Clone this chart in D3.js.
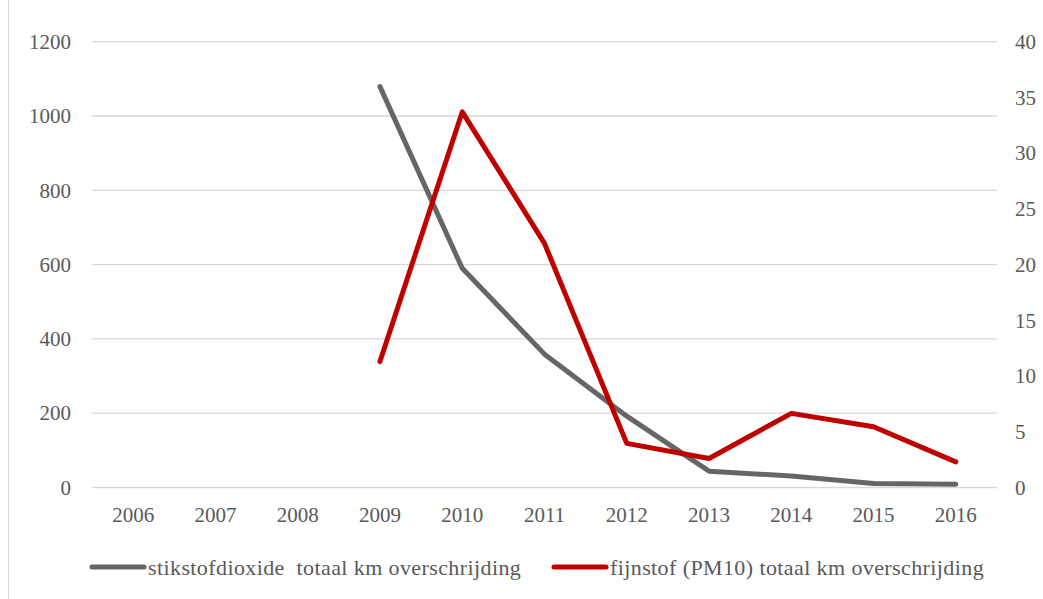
<!DOCTYPE html>
<html><head><meta charset="utf-8">
<script src="https://cdn.jsdelivr.net/npm/d3@7"></script>
<style>body{margin:0;background:#fff}svg{display:block}</style>
</head><body>
<script>
const years = ["2006","2007","2008","2009","2010","2011","2012","2013","2014","2015","2016"];
const no2Values = [null,null,null,1079,590,359,192,44,31,11,9];
const pm10Values = [null,null,null,11.3,33.7,21.9,3.96,2.6,6.65,5.45,2.3];
const leftTicks = [0,200,400,600,800,1000,1200];
const rightTicks = [0,5,10,15,20,25,30,35,40];
const seriesNames = ["stikstofdioxide\u00a0\u00a0totaal km overschrijding","fijnstof (PM10) totaal km overschrijding"];
const seriesColors = ["#666666","#C00000"];

const FONT="Liberation Serif";
const TXT="#595959";
const fs=21;
const W=1043,H=599;
const svg=d3.select("body").append("svg").attr("width",W).attr("height",H);
svg.append("line").attr("x1",8.5).attr("x2",8.5).attr("y1",0).attr("y2",H).attr("stroke","#D9D9D9").attr("stroke-width",1);

const x=d3.scaleBand().domain(years).range([92,997]);
const yL=d3.scaleLinear().domain([0,1200]).range([487.5,41.7]);
const yR=d3.scaleLinear().domain([0,40]).range([487.5,41.7]);

svg.append("g").selectAll("line").data(leftTicks).join("line")
 .attr("x1",92).attr("x2",997).attr("y1",d=>yL(d)).attr("y2",d=>yL(d))
 .attr("stroke","#D9D9D9").attr("stroke-width",1.3);

function styleAxis(g){
  g.select(".domain").remove();
  g.attr("font-family",FONT).attr("font-size",fs);
  g.selectAll("text").attr("font-size",fs).attr("fill",TXT).style("font-family",FONT);
}
const gL=svg.append("g").attr("transform","translate(71,0)")
  .call(d3.axisLeft(yL).tickValues(leftTicks).tickSize(0).tickPadding(0).tickFormat(d3.format("d")));
styleAxis(gL);
const gR=svg.append("g").attr("transform","translate(1015,0)")
  .call(d3.axisRight(yR).tickValues(rightTicks).tickSize(0).tickPadding(0));
styleAxis(gR);
const gB=svg.append("g").attr("transform","translate(0,507)")
  .call(d3.axisBottom(x).tickSize(0).tickPadding(0));
styleAxis(gB);

const cx=d=>x(d)+x.bandwidth()/2;
const data1=years.map((y,i)=>({y,v:no2Values[i]}));
const data2=years.map((y,i)=>({y,v:pm10Values[i]}));
const l1=d3.line().defined(d=>d.v!=null).x(d=>cx(d.y)).y(d=>yL(d.v));
const l2=d3.line().defined(d=>d.v!=null).x(d=>cx(d.y)).y(d=>yR(d.v));
svg.append("path").datum(data1).attr("d",l1).attr("fill","none").attr("stroke",seriesColors[0]).attr("stroke-width",5).attr("stroke-linecap","round").attr("stroke-linejoin","round");
svg.append("path").datum(data2).attr("d",l2).attr("fill","none").attr("stroke",seriesColors[1]).attr("stroke-width",5).attr("stroke-linecap","round").attr("stroke-linejoin","round");

const legX=[90,552];
seriesNames.forEach((n,i)=>{
  svg.append("line").attr("x1",legX[i]+2).attr("x2",legX[i]+54).attr("y1",567).attr("y2",567).attr("stroke",seriesColors[i]).attr("stroke-width",5).attr("stroke-linecap","round");
  svg.append("text").attr("x",legX[i]+58).attr("y",567).attr("dy","0.35em")
    .attr("font-size",22).attr("fill",TXT).style("font-family",FONT)
    .attr("letter-spacing",0.4).text(n);
});
</script>
</body></html>
